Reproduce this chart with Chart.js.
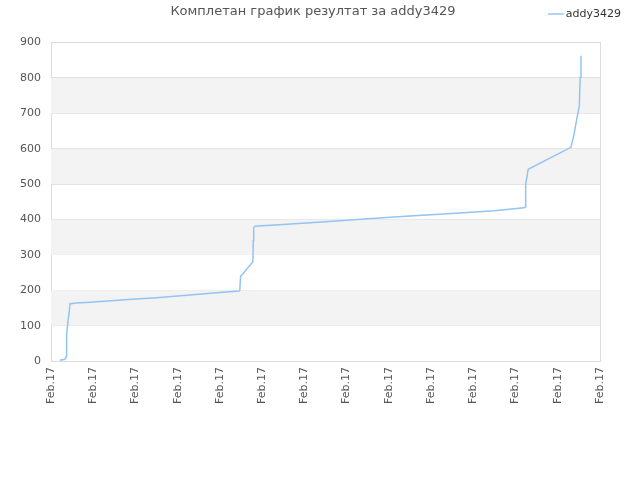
<!DOCTYPE html>
<html>
<head>
<meta charset="utf-8">
<script src="https://cdn.jsdelivr.net/npm/chart.js@4/dist/chart.umd.min.js"></script>
<style>
  html, body { margin: 0; padding: 0; background: #fff; }
  #contenedor { width: 640px; height: 480px; }
</style>
</head>
<body>
<div id="contenedor"><canvas id="graficoResultados"></canvas></div>
<script>
// ============ Datos ============
var titulo = "Комплетан график резултат за addy3429";
var serieNombre = "addy3429";
var etiquetasX = ["Feb.17", "Feb.17", "Feb.17", "Feb.17", "Feb.17", "Feb.17", "Feb.17",
                  "Feb.17", "Feb.17", "Feb.17", "Feb.17", "Feb.17", "Feb.17", "Feb.17"];
var ticksY = [0, 100, 200, 300, 400, 500, 600, 700, 800, 900];

// posición en el eje x (índice de etiqueta) y resultado acumulado
var posX = [0.21, 0.33, 0.36, 0.37, 0.37, 0.40, 0.43, 0.45, 0.61,
            1.0, 1.5, 2.0, 2.5, 3.0, 3.5, 4.0, 4.45,
            4.47, 4.49, 4.54, 4.78, 4.79, 4.80, 4.83,
            5.5, 6.5, 7.5, 8.5, 9.5, 10.5, 11.2,
            11.23, 11.24, 11.30, 12.31, 12.37, 12.51, 12.53, 12.55];
var resultados = [2, 5, 12, 20, 75, 110, 138, 162, 164,
                  167, 171, 175, 179, 184, 189, 194, 198,
                  200, 240, 246, 281, 340, 378, 381,
                  386, 394, 402, 410, 417, 425, 433,
                  435, 500, 542, 604, 632, 722, 802, 863];

// ============ Bandas grises alternas ============
var bandasPlugin = {
  id: "bandas",
  beforeDatasetsDraw(chart) {
    const { ctx, chartArea, scales } = chart;
    ctx.save();
    ctx.fillStyle = "#f3f3f3";
    for (let i = 1; i < ticksY.length - 1; i += 2) {
      const y1 = scales.y.getPixelForValue(ticksY[i + 1]);
      const y0 = scales.y.getPixelForValue(ticksY[i]);
      ctx.fillRect(chartArea.left, y1, chartArea.right - chartArea.left, y0 - y1);
    }
    ctx.restore();
  }
};

var puntos = posX.map((x, i) => ({ x: x, y: resultados[i] }));

new Chart(document.getElementById("graficoResultados"), {
  type: "line",
  data: {
    datasets: [{
      label: serieNombre,
      data: puntos,
      borderColor: "#92c4f4",
      backgroundColor: "#92c4f4",
      borderWidth: 1.5,
      pointRadius: 0,
      tension: 0,
      fill: false
    }]
  },
  options: {
    responsive: true,
    maintainAspectRatio: false,
    animation: false,
    layout: { padding: { left: 0, right: 14, top: 0, bottom: 70 } },
    scales: {
      x: {
        type: "linear",
        min: 0,
        max: etiquetasX.length - 1,
        afterFit: s => { s.paddingRight = 40; },
        grid: { display: false, drawTicks: false },
        border: { color: "#dcdcdc" },
        ticks: {
          stepSize: 1,
          autoSkip: false,
          minRotation: 90,
          maxRotation: 90,
          padding: 6,
          color: "#555",
          font: { family: "DejaVu Sans", size: 11 },
          callback: v => etiquetasX[v]
        }
      },
      y: {
        min: 0,
        max: 900,
        afterFit: s => { s.width = 51; },
        afterBuildTicks: s => { s.ticks = ticksY.map(v => ({ value: v })); },
        grid: { color: "#e0e0e0", drawTicks: false },
        border: { color: "#dcdcdc" },
        ticks: {
          padding: 10,
          color: "#555",
          font: { family: "DejaVu Sans", size: 11 }
        }
      },
      yDerecha: {
        position: "right",
        min: 0,
        max: 900,
        afterFit: s => { s.width = 0; },
        grid: { display: false, drawTicks: false },
        border: { color: "#dcdcdc" },
        ticks: { display: false }
      },
      xArriba: {
        type: "linear",
        position: "top",
        min: 0,
        max: 13,
        afterFit: s => { s.height = 13; },
        grid: { display: false, drawTicks: false },
        border: { color: "#dcdcdc" },
        ticks: { display: false }
      }
    },
    plugins: {
      title: {
        display: true,
        text: titulo,
        color: "#555",
        font: { family: "DejaVu Sans", size: 13, weight: "normal" },
        padding: { top: 4, bottom: -16 }
      },
      legend: {
        position: "top",
        align: "end",
        labels: {
          usePointStyle: true,
          pointStyle: "line",
          boxWidth: 9,
          padding: 5,
          color: "#333",
          font: { family: "DejaVu Sans", size: 11 }
        }
      },
      tooltip: { enabled: false }
    }
  },
  plugins: [bandasPlugin]
});
</script>
</body>
</html>
